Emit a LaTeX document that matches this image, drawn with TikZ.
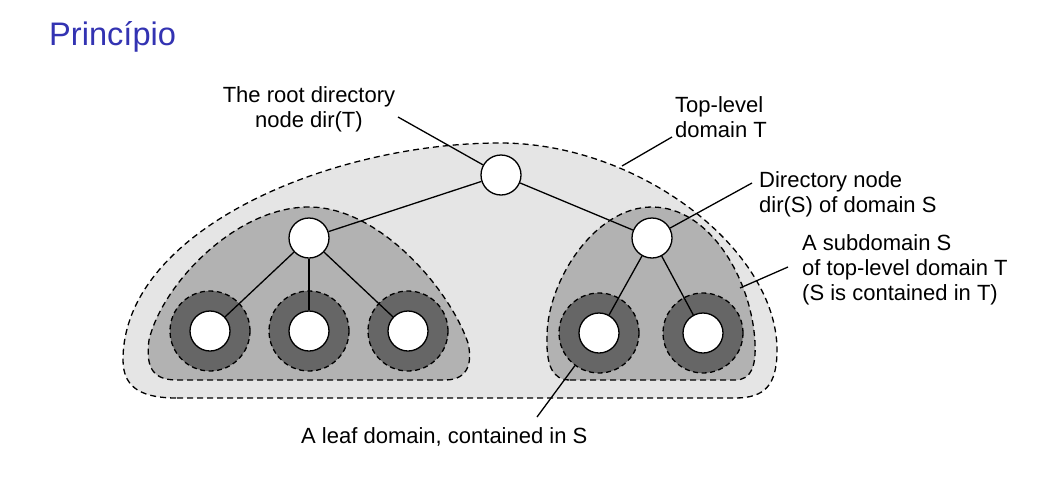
\documentclass[tikz,border=0pt]{standalone}
\usepackage{fontspec}
\setmainfont{Liberation Sans}
\usetikzlibrary{positioning}
\definecolor{outergray}{gray}{0.9}
\definecolor{subgray}{gray}{0.7}
\definecolor{leafgray}{gray}{0.4}
\definecolor{titleblue}{RGB}{51,51,178}

\begin{document}
\begin{tikzpicture}[
    x=1pt, y=1pt,
    node distance=93pt,
    region/.style={draw=black, line width=1.3pt, dash pattern=on 6pt off 4pt},
    dirnode/.style={circle, draw=black, fill=white, line width=1.3pt, minimum size=40pt, inner sep=0pt},
    leafring/.style={circle, draw=black, fill=leafgray, line width=1.3pt, dash pattern=on 5pt off 3.5pt, minimum size=80pt, inner sep=0pt},
    leafnode/.style={circle, draw=black, fill=white, line width=1.3pt, minimum size=40pt, inner sep=0pt},
    label/.style={inner sep=0pt, font=\fontsize{22}{25}\selectfont},
    edge/.style={line width=1.3pt}
]
\useasboundingbox (0,0) rectangle (1042,-477);

% Title
\node[anchor=base west, inner sep=0pt, text=titleblue, font=\fontsize{32.6}{36}\selectfont] (title) at (49,-45) {Princípio};

% Top-level domain T
\draw[region, fill=outergray] (177,-398) -- (735,-398)
    .. controls (765,-398) and (777,-385) .. (777,-350)
    .. controls (777,-250) and (640,-143) .. (500,-143)
    .. controls (330,-143) and (123,-230) .. (123,-360)
    .. controls (123,-390) and (145,-398) .. (177,-398) -- cycle;

% Subdomains
\draw[region, fill=subgray] (177,-380) -- (445,-380)
    .. controls (470,-380) and (472,-360) .. (468,-343)
    .. controls (450,-290) and (380,-207) .. (309,-207)
    .. controls (235,-207) and (162,-285) .. (149,-340)
    .. controls (145,-370) and (155,-380) .. (177,-380) -- cycle;
\draw[region, fill=subgray] (570,-380) -- (735,-380)
    .. controls (752,-380) and (756,-365) .. (755,-343)
    .. controls (752,-280) and (710,-207) .. (652,-207)
    .. controls (595,-207) and (548,-280) .. (547,-335)
    .. controls (546,-365) and (552,-380) .. (570,-380) -- cycle;

% Directory nodes
\node[dirnode] (root) at (501,-175) {};
\node[dirnode, below of=root, yshift=30pt, xshift=-192pt] (dirL) {};
\node[dirnode, below of=root, yshift=30pt, xshift=151pt] (dirR) {};

% Leaf domains
\node[leafring, below of=dirL, xshift=-99pt] (ringA) {};
\node[leafring, below of=dirL] (ringB) {};
\node[leafring, below of=dirL, xshift=99pt] (ringC) {};
\node[leafring, below of=dirR, yshift=-2pt, xshift=-53pt] (ringD) {};
\node[leafring, below of=dirR, yshift=-2pt, xshift=51pt] (ringE) {};
\foreach \n in {A,B,C,D,E}
    \node[leafnode] (leaf\n) at (ring\n) {};

% Tree edges
\draw[edge] (root) -- (dirL);
\draw[edge] (root) -- (dirR);
\foreach \n in {A,B,C}
    \draw[edge] (dirL) -- (leaf\n);
\foreach \n in {D,E}
    \draw[edge] (dirR) -- (leaf\n);

% Labels (base = last line)
\node[label, align=center, anchor=base] (lblroot) at (309,-127) {The root directory\\node dir(T)};
\node[label, align=left, anchor=base west] (lbltop) at (675,-137) {Top-level\\domain T};
\node[label, align=left, anchor=base west] (lbldir) at (759,-212) {Directory node\\dir(S) of domain S};
\node[label, align=left, anchor=base west] (lblsub) at (802,-300) {A subdomain S\\of top-level domain T\\(S is contained in T)};
\node[label, anchor=base west] (lblleaf) at (301,-443) {A leaf domain, contained in S};

% Pointer lines
\coordinate (rootpin) at (398,-117);
\coordinate (toppin) at (672,-137);
\coordinate (topend) at (622,-166);
\coordinate (dirpin) at (752,-183);
\coordinate (subpin) at (788,-267);
\coordinate (subend) at (740,-288);
\coordinate (leafpin) at (537,-417);
\draw[edge] (rootpin) -- (root);
\draw[edge] (toppin) -- (topend);
\draw[edge] (dirpin) -- (dirR);
\draw[edge] (subpin) -- (subend);
\draw[edge] (leafpin) -- (ringD);

\end{tikzpicture}
\end{document}
